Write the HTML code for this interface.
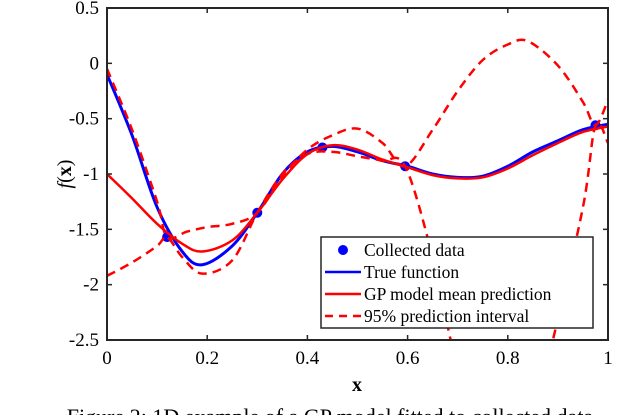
<!DOCTYPE html>
<html><head><meta charset="utf-8"><style>
html,body{margin:0;padding:0;background:#fff;width:640px;height:415px;overflow:hidden}
svg{display:block;font-family:"Liberation Serif",serif}
</style></head><body>
<svg id="chart" width="640" height="415" viewBox="0 0 640 415" overflow="hidden">
<defs><clipPath id="clip"><rect x="107" y="8" width="501" height="332"/></clipPath></defs>
<g id="plot" clip-path="url(#clip)"></g>
<rect x="107" y="8" width="501" height="332" fill="none" stroke="#262626" stroke-width="2"/>
<g id="ticks"></g>
<text x="357" y="391" font-size="20" font-weight="bold" text-anchor="middle">x</text>
<text transform="translate(71,174) rotate(-90)" font-size="20" text-anchor="middle"><tspan font-style="italic">f</tspan>(<tspan font-weight="bold">x</tspan>)</text>
<g>
<rect x="321" y="237" width="272" height="91" fill="#fff" stroke="#262626" stroke-width="1.5"/>
<circle cx="343" cy="250" r="5" fill="#0000ff"/>
<text x="364" y="256" font-size="17.5">Collected data</text>
<line x1="325" y1="272" x2="361" y2="272" stroke="#0000ff" stroke-width="2.5"/>
<text x="364" y="278" font-size="17.5">True function</text>
<line x1="325" y1="294" x2="361" y2="294" stroke="#ff0000" stroke-width="2.5"/>
<text x="364" y="300" font-size="17.5">GP model mean prediction</text>
<line x1="325" y1="316" x2="361" y2="316" stroke="#ff0000" stroke-width="2.5" stroke-dasharray="8,6"/>
<text x="364" y="322" font-size="17.5">95% prediction interval</text>
</g>
<text x="330" y="424" font-size="22" text-anchor="middle">Figure 2: 1D example of a GP model fitted to collected data</text>
</svg>
<script>
const xTicks=[0,0.2,0.4,0.6,0.8,1];
const xTickLabels=["0","0.2","0.4","0.6","0.8","1"];
const yTicks=[0.5,0,-0.5,-1,-1.5,-2,-2.5];
const yTickLabels=["0.5","0","-0.5","-1","-1.5","-2","-2.5"];
const dataX=[0.12,0.3,0.43,0.595,0.975];
const dataY=[-1.57,-1.35,-0.76,-0.93,-0.56];
const trueX=[0,0.05,0.1,0.15,0.19,0.25,0.3,0.35,0.4,0.45,0.5,0.55,0.6,0.65,0.7,0.75,0.8,0.85,0.9,0.95,1];
const trueY=[-0.1,-0.65,-1.3,-1.7,-1.82,-1.65,-1.35,-1.0,-0.8,-0.75,-0.8,-0.88,-0.93,-1.0,-1.03,-1.02,-0.93,-0.8,-0.7,-0.6,-0.55];
const meanX=[0,0.05,0.1,0.15,0.19,0.25,0.3,0.35,0.4,0.45,0.5,0.55,0.6,0.65,0.7,0.75,0.8,0.85,0.9,0.95,1];
const meanY=[-1.0,-1.22,-1.45,-1.63,-1.7,-1.6,-1.35,-1.05,-0.82,-0.74,-0.78,-0.87,-0.94,-1.01,-1.04,-1.03,-0.95,-0.83,-0.72,-0.62,-0.57];
const upperX=[0,0.05,0.1,0.12,0.16,0.2,0.25,0.3,0.35,0.4,0.45,0.5,0.55,0.595,0.65,0.7,0.75,0.8,0.84,0.9,0.95,0.975,1];
const upperY=[-0.05,-0.6,-1.25,-1.57,-1.52,-1.48,-1.45,-1.35,-1.02,-0.78,-0.65,-0.59,-0.72,-0.93,-0.6,-0.25,0.03,0.17,0.2,-0.02,-0.35,-0.56,-0.33];
const lowerX=[0,0.05,0.1,0.12,0.15,0.19,0.25,0.3,0.35,0.4,0.45,0.5,0.55,0.595,0.65,0.7,0.75,0.8,0.85,0.89,0.95,0.975,1];
const lowerY=[-1.92,-1.8,-1.65,-1.57,-1.75,-1.9,-1.78,-1.35,-1.0,-0.82,-0.8,-0.84,-0.88,-0.93,-1.75,-2.75,-3.2,-3.4,-3.2,-2.5,-1.3,-0.56,-0.72];
const L=107,R=608,T=8,B=340;
const sx=v=>L+v*(R-L);
const sy=v=>T+(0.5-v)/3*(B-T);
const NS="http://www.w3.org/2000/svg";
function mk(t,a,p){const e=document.createElementNS(NS,t);for(const k in a)e.setAttribute(k,a[k]);p.appendChild(e);return e;}
function path(xs,ys){const p=xs.map((x,i)=>[sx(x),sy(ys[i])]);let d="M"+p[0][0]+","+p[0][1];
for(let i=0;i<p.length-1;i++){const p0=p[Math.max(0,i-1)],p1=p[i],p2=p[i+1],p3=p[Math.min(p.length-1,i+2)];const k=1/6;
d+=" C"+(p1[0]+(p2[0]-p0[0])*k)+","+(p1[1]+(p2[1]-p0[1])*k)+" "+(p2[0]-(p3[0]-p1[0])*k)+","+(p2[1]-(p3[1]-p1[1])*k)+" "+p2[0]+","+p2[1];}return d;}
const plot=document.getElementById("plot"),ticks=document.getElementById("ticks"),svg=document.getElementById("chart");
dataX.forEach((x,i)=>{const c=mk("circle",{cx:sx(x),cy:sy(dataY[i]),r:5,fill:"#0000ff"},plot);

});
let e;
e=mk("path",{d:path(trueX,trueY),fill:"none",stroke:"#0000ff","stroke-width":3},plot);


e=mk("path",{d:path(meanX,meanY),fill:"none",stroke:"#ff0000","stroke-width":2.5},plot);


e=mk("path",{d:path(upperX,upperY),fill:"none",stroke:"#ff0000","stroke-width":2.5,"stroke-dasharray":"9,6"},plot);


e=mk("path",{d:path(lowerX,lowerY),fill:"none",stroke:"#ff0000","stroke-width":2.5,"stroke-dasharray":"9,6"},plot);


xTicks.forEach((v,i)=>{const x=sx(v);
mk("line",{x1:x,x2:x,y1:B,y2:B-5,stroke:"#262626","stroke-width":1.5},ticks);
mk("line",{x1:x,x2:x,y1:T,y2:T+5,stroke:"#262626","stroke-width":1.5},ticks);
const t=mk("text",{x:x,y:B+24,"font-size":19,"text-anchor":"middle"},svg);t.textContent=xTickLabels[i];

});
yTicks.forEach((v,i)=>{const y=sy(v);
mk("line",{x1:L,x2:L+5,y1:y,y2:y,stroke:"#262626","stroke-width":1.5},ticks);
mk("line",{x1:R,x2:R-5,y1:y,y2:y,stroke:"#262626","stroke-width":1.5},ticks);
const t=mk("text",{x:L-8,y:y+6,"font-size":19,"text-anchor":"end"},svg);t.textContent=yTickLabels[i];

});
</script>
</body></html>
